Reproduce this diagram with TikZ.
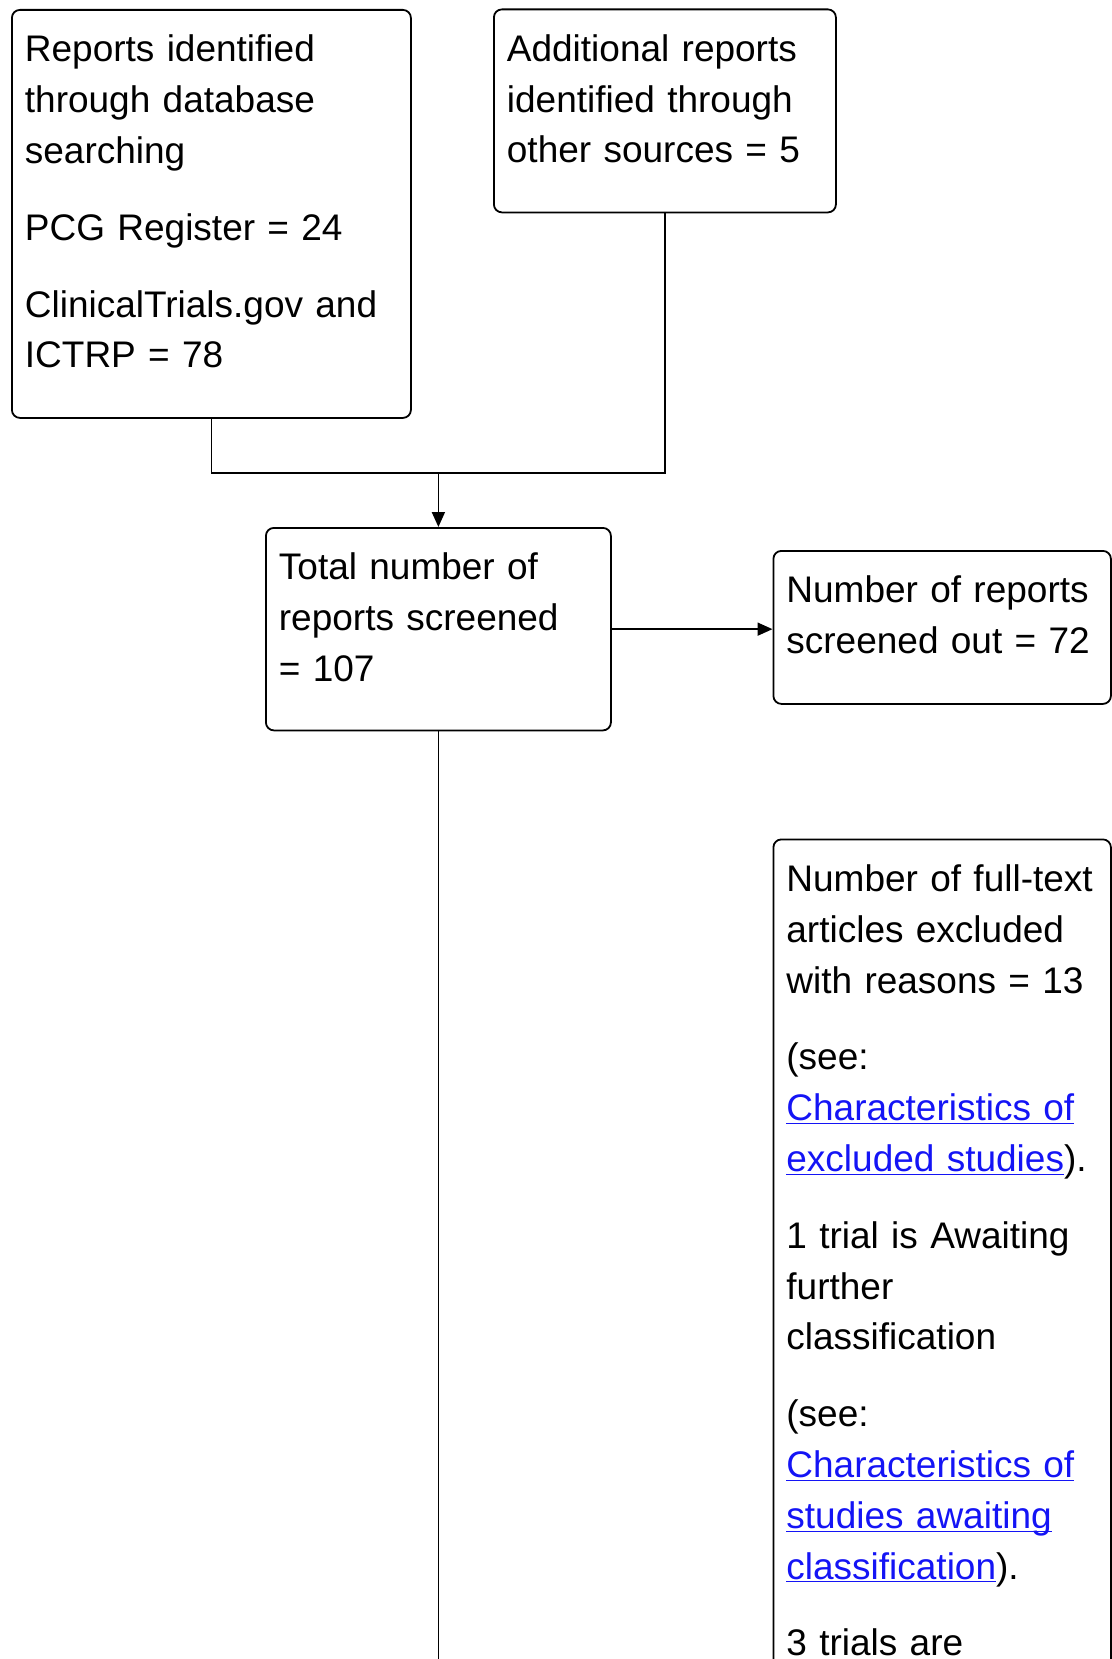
\documentclass[tikz,border=0pt]{standalone}
\usepackage{fontspec}
\setmainfont{Liberation Sans}
\usetikzlibrary{arrows.meta}
\definecolor{linkblue}{RGB}{20,20,245}
\newcommand{\lnk}[1]{\textcolor{linkblue}{\underline{\smash{#1}}}}

\begin{document}
\begin{tikzpicture}[x=0.5pt,y=-0.5pt,
  box/.style={draw, rounded corners=4pt, line width=0.9pt, anchor=north west, align=left,
    inner xsep=6.5pt, inner ysep=0pt, text height=26pt,
    font=\fontsize{18.5pt}{25.4pt}\selectfont},
  link/.style={line width=0.9pt, -{Triangle[length=7.5pt,width=6.5pt]}}]
\clip (0,0) rectangle (1112,1659);
\node [box, text width=186.5pt, text depth=178pt] (a) at (11,9) {Reports identified\\ through database\\ searching\\[13pt] PCG Register = 24\\[13pt] ClinicalTrials.gov and\\ ICTRP = 78};
\node [box, text width=158pt, text depth=75.5pt] (b) at (493,8.5) {Additional reports\\ identified through\\ other sources = 5};
\node [box, text width=159.5pt, text depth=75.25pt] (c) at (265,527) {Total number of\\ reports screened\\ = 107};
\node [box, text width=155.75pt, text depth=50.5pt] (d) at (772.5,550) {Number of reports\\ screened out = 72};
\node [box, text width=155.75pt, text depth=440pt] (e) at (772.5,838.5) {Number of full-text\\ articles excluded\\ with reasons = 13\\[13pt] (see:\\ \lnk{Characteristics of}\\ \lnk{excluded studies}).\\[13pt] 1 trial is Awaiting\\ further\\ classification\\[13pt] (see:\\ \lnk{Characteristics of}\\ \lnk{studies awaiting}\\ \lnk{classification}).\\[13pt] 3 trials are};

\coordinate (m) at (c.north |- 0,473);
\coordinate (f) at (c.south |- 0,1700);
\draw [line width=0.9pt] (a.south) |- (m) -| (b.south);
\draw [link] (m) -- (c.north);
\draw [link] (c.east) -- (c.east -| d.west);
\draw [line width=0.9pt] (c.south) -- (f);
\end{tikzpicture}
\end{document}
